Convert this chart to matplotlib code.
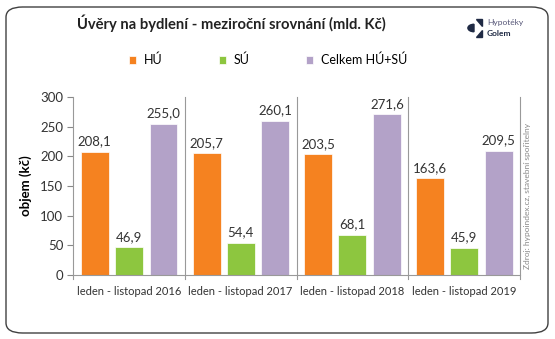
import matplotlib
matplotlib.use("Agg")
import matplotlib.pyplot as plt
from matplotlib.patches import FancyBboxPatch, Wedge, Polygon
import numpy as np

categories = ["leden - listopad 2016", "leden - listopad 2017", "leden - listopad 2018", "leden - listopad 2019"]
series_names = ["HÚ", "SÚ", "Celkem HÚ+SÚ"]
hu = [208.1, 205.7, 203.5, 163.6]
su = [46.9, 54.4, 68.1, 45.9]
celkem = [255.0, 260.1, 271.6, 209.5]
yticks = [0, 50, 100, 150, 200, 250, 300]

colors = ["#F58220", "#8DC63F", "#B3A2C8"]
plt.rcParams['font.family'] = ['Lato', 'DejaVu Sans']

fig = plt.figure(figsize=(5.55, 3.39), dpi=100)
border = FancyBboxPatch((6/555, 6/339), 542/555, 326/339, boxstyle="round,pad=0,rounding_size=0.03",
                        transform=fig.transFigure, fill=False, edgecolor="#404040", linewidth=1.0)
fig.patches.append(border)

ax = fig.add_axes([73/555, 1-275/339, 447/555, 178/339])
x = np.arange(len(categories))
w = 0.25
offs = [-0.305, 0.0, 0.31]
bars = []
for vals, off, c, name in zip([hu, su, celkem], offs, colors, series_names):
    b = ax.bar(x + off, vals, width=w, color=c, label=name, edgecolor="white", linewidth=0.5)
    bars.append(b)
    for xi, v in zip(x + off, vals):
        ax.text(xi, v + 7, f"{v:.1f}".replace(".", ","), ha="center", va="bottom", fontsize=9.5, color="#333333")

ax.set_xlim(-0.5, len(categories) - 0.5)
ax.set_ylim(0, 300)
ax.set_yticks(yticks)
ax.set_yticklabels([str(t) for t in yticks], fontsize=9.5, color="#333333")
ax.set_xticks(x)
ax.set_xticklabels(categories, fontsize=8, color="#333333")
ax.tick_params(axis="x", length=0, pad=8)
ax.tick_params(axis="y", length=4, color="#888888", pad=3)
# category separator lines
for b in np.arange(-0.5, len(categories) + 0.5, 1.0):
    ax.plot([b, b], [-0.025, 1.0], transform=ax.get_xaxis_transform(), color="#999999", lw=0.8, clip_on=False)
for s in ["top", "right", "left"]:
    ax.spines[s].set_visible(False)
ax.spines["bottom"].set_color("#999999")
ax.set_ylabel("objem (kč)", fontsize=9.5, fontweight="bold", labelpad=6)

fig.text(231/555, 1-23/339, "Úvěry na bydlení - meziroční srovnání (mld. Kč)", ha="center", va="center",
         fontsize=10.6, fontweight="bold", color="#222222")

leg = fig.legend(handles=bars, labels=series_names, loc="center", bbox_to_anchor=(268/555, 1-60/339),
                 ncol=3, frameon=False, fontsize=9, handlelength=0.6, handleheight=0.6,
                 columnspacing=4.5, handletextpad=0.6)

fig.text(527/555, 1-196/339, "Zdroj: hypoindex.cz, stavební spořitelny", rotation=90, ha="center", va="center",
         fontsize=6, color="#888888")

# logo
navy = "#1F2A44"
fig.patches.append(Wedge((474/555, 1-28/339), 0.011, 90, 270, transform=fig.transFigure, color=navy))
fig.patches.append(Polygon([(476/555, 1-19/339), (482/555, 1-19/339), (482/555, 1-26/339)], closed=True,
                           transform=fig.transFigure, color=navy))
fig.patches.append(Polygon([(476/555, 1-37/339), (482/555, 1-37/339), (482/555, 1-30/339)], closed=True,
                           transform=fig.transFigure, color=navy))
fig.text(487/555, 1-22/339, "Hypotéky", fontsize=6, color="#555577", va="center", ha="left")
fig.text(487/555, 1-33/339, "Golem", fontsize=6, color=navy, fontweight="bold", va="center", ha="left")

fig.savefig("out.png", dpi=100)
